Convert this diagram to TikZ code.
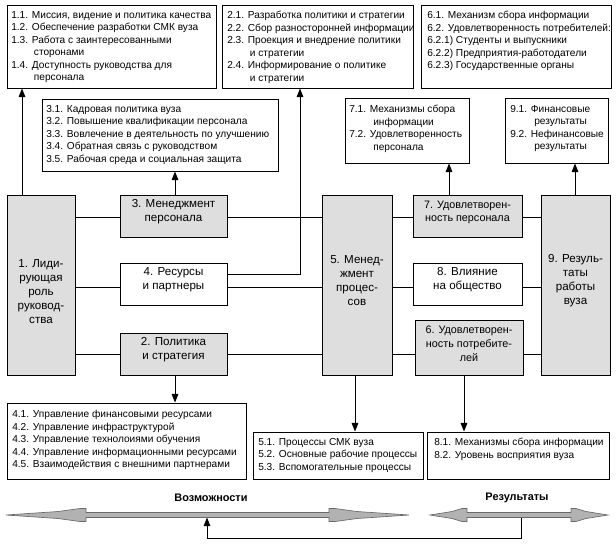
\documentclass[tikz,border=0pt]{standalone}
\usepackage{fontspec}
\setmainfont{Liberation Sans}
\usetikzlibrary{fit,arrows.meta}
\definecolor{blkgray}{RGB}{222,222,222}
\definecolor{arrgray}{RGB}{178,178,178}
\definecolor{arredge}{RGB}{105,105,105}
\begin{document}
\begin{tikzpicture}[x=0.75pt,y=-0.75pt,
  frame/.style={draw=black, line width=0.7pt, inner sep=0pt},
  blk/.style={frame, align=center, font=\fontsize{8.7}{10.5}\selectfont},
  gblk/.style={blk, fill=blkgray},
  narrow/.style={font=\fontsize{8.1}{10.3}\selectfont},
  lst/.style={inner sep=0pt, anchor=north west, align=left, font=\fontsize{7.6}{9.35}\selectfont},
  conn/.style={line width=0.7pt},
  arr/.style={conn, -{Triangle[width=5pt,length=6.5pt]}},
  bigarr/.style={fill=arrgray, draw=arredge, line width=0.5pt},
  ttl/.style={inner sep=0pt, font=\fontsize{8.2}{10}\selectfont\bfseries},
]
\useasboundingbox (0,0) rectangle (616,547);

% ---- top list boxes
\node[frame, fit={(7,5) (216,88)}] (b1x) {};
\node[lst] (t1x) at (11,11) {1.1. Миссия, видение и политика качества\\1.2. Обеспечение разработки СМК вуза\\1.3. Работа с заинтересованными\\\hspace*{17pt}сторонами\\1.4. Доступность руководства для\\\hspace*{17pt}персонала};

\node[frame, fit={(222,5) (413,88)}] (b2x) {};
\node[lst] (t2x) at (227,11) {2.1. Разработка политики и стратегии\\2.2. Сбор разносторонней информации\\2.3. Проекция и внедрение политики\\\hspace*{17pt}и стратегии\\2.4. Информирование о политике\\\hspace*{17pt}и стратегии};

\node[frame, fit={(421,5) (611,88)}] (b6x) {};
\node[lst] (t6x) at (427,11) {6.1. Механизм сбора информации\\6.2. Удовлетворенность потребителей:\\6.2.1) Студенты и выпускники\\6.2.2) Предприятия-работодатели\\6.2.3) Государственные органы};

\node[frame, fit={(42,99) (278,171)}] (b3x) {};
\node[lst] (t3x) at (46,105) {3.1. Кадровая политика вуза\\3.2. Повышение квалификации персонала\\3.3. Вовлечение в деятельность по улучшению\\3.4. Обратная связь с руководством\\3.5. Рабочая среда и социальная защита};

\node[frame, fit={(345,98) (469,163)}] (b7x) {};
\node[lst] (t7x) at (349,105) {7.1. Механизмы сбора\\\hspace*{18pt}информации\\7.2. Удовлетворенность\\\hspace*{18pt}персонала};

\node[frame, fit={(505,98) (608,163)}] (b9x) {};
\node[lst] (t9x) at (510,105) {9.1. Финансовые\\\hspace*{18pt}результаты\\9.2. Нефинансовые\\\hspace*{18pt}результаты};

% ---- main blocks
\node[gblk, fit={(7,195) (75,375)}] (n1) {};
\node[blk, draw=none, fill=none] (t1) at (41,292) {1. Лиди-\\рующая\\роль\\руковод-\\ства};
\node[gblk, fit={(120,195) (227,237)}] (n3) {3. Менеджмент\\персонала};
\node[blk, fit={(120,263) (227,305)}] (n4) {4. Ресурсы\\и партнеры};
\node[gblk, fit={(120,333) (227,375)}] (n2) {2. Политика\\и стратегия};
\node[gblk, fit={(322,195) (392,375)}] (n5) {5. Менед-\\жмент\\процес-\\сов};
\node[gblk, narrow, fit={(413,195) (522,237)}] (n7) {7. Удовлетворен-\\ность персонала};
\node[blk, fit={(413,263) (522,305)}] (n8) {8. Влияние\\на общество};
\node[gblk, narrow, fit={(415,320) (523,375)}] (n6) {6. Удовлетворен-\\ность потребите-\\лей};
\node[gblk, fit={(541,195) (610,375)}] (n9) {9. Резуль-\\таты\\работы\\вуза};

% ---- bottom list boxes
\node[frame, fit={(7,403) (246,479)}] (b4x) {};
\node[lst] (t4x) at (12,410) {4.1. Управление финансовыми ресурсами\\4.2. Управление инфраструктурой\\4.3. Управление технолоиями обучения\\4.4. Управление информационными ресурсами\\4.5. Взаимодействия с внешними партнерами};

\node[frame, fit={(253,432) (423,479)}] (b5x) {};
\node[lst] (t5x) at (258,438) {5.1. Процессы СМК вуза\\5.2. Основные рабочие процессы\\5.3. Вспомогательные процессы};

\node[frame, fit={(427,432) (609,479)}] (b8x) {};
\node[lst] (t8x) at (434,438) {8.1. Механизмы сбора информации\\8.2. Уровень восприятия вуза};

% ---- horizontal connectors
\draw[conn] (n1.east |- 0,217) -- (n3.west |- 0,217);
\draw[conn] (n1.east |- 0,287) -- (n4.west |- 0,287);
\draw[conn] (n1.east |- 0,354) -- (n2.west |- 0,354);
\draw[conn] (n3.east |- 0,217) -- (n5.west |- 0,217);
\draw[conn] (n4.east |- 0,287) -- (n5.west |- 0,287);
\draw[conn] (n2.east |- 0,354) -- (n5.west |- 0,354);
\draw[conn] (n5.east |- 0,217) -- (n7.west |- 0,217);
\draw[conn] (n5.east |- 0,287) -- (n8.west |- 0,287);
\draw[conn] (n5.east |- 0,354) -- (n6.west |- 0,354);
\draw[conn] (n7.east |- 0,217) -- (n9.west |- 0,217);
\draw[conn] (n8.east |- 0,287) -- (n9.west |- 0,287);
\draw[conn] (n6.east |- 0,354) -- (n9.west |- 0,354);

% ---- vertical connectors
\draw[arr] (n1.north -| 22,0) -- (b1x.south -| 22,0);
\draw[arr] (n3.north -| 175,0) -- (b3x.south -| 175,0);
\draw[arr] (n4.east |- 0,274) -| (b2x.south -| 300,0);
\draw[arr] (n7.north -| 449,0) -- (b7x.south -| 449,0);
\draw[arr] (n9.north -| 575,0) -- (b9x.south -| 575,0);
\draw[arr] (n2.south -| 175,0) -- (b4x.north -| 175,0);
\draw[arr] (n5.south -| 355,0) -- (b5x.north -| 355,0);
\draw[arr] (n6.south -| 464,0) -- (b8x.north -| 464,0);

% ---- bottom double arrows
\node[ttl] (lv) at (211,498) {Возможности};
\node[ttl] (lr) at (517,498) {Результаты};
\draw[bigarr] (6,515) -- (58,511.5) -- (80,508.5) -- (86,508.5) -- (86,512.5) -- (329,512.5) -- (329,508.5) -- (335,508.5) -- (357,511.5) -- (409,515)
  -- (357,518.5) -- (335,521.5) -- (329,521.5) -- (329,517.5) -- (86,517.5) -- (86,521.5) -- (80,521.5) -- (58,518.5) -- cycle;
\draw[bigarr] (430,515) -- (452,511.5) -- (462,508.5) -- (467,508.5) -- (467,512.5) -- (571,512.5) -- (571,508.5) -- (576,508.5) -- (586,511.5) -- (608,515)
  -- (586,518.5) -- (576,521.5) -- (571,521.5) -- (571,517.5) -- (467,517.5) -- (467,521.5) -- (462,521.5) -- (452,518.5) -- cycle;
\coordinate (fbs) at (521,517.5);
\coordinate (fbe) at (207,517.5);
\draw[arr] (fbs) -- (521,538) -| (fbe);
\end{tikzpicture}
\end{document}
